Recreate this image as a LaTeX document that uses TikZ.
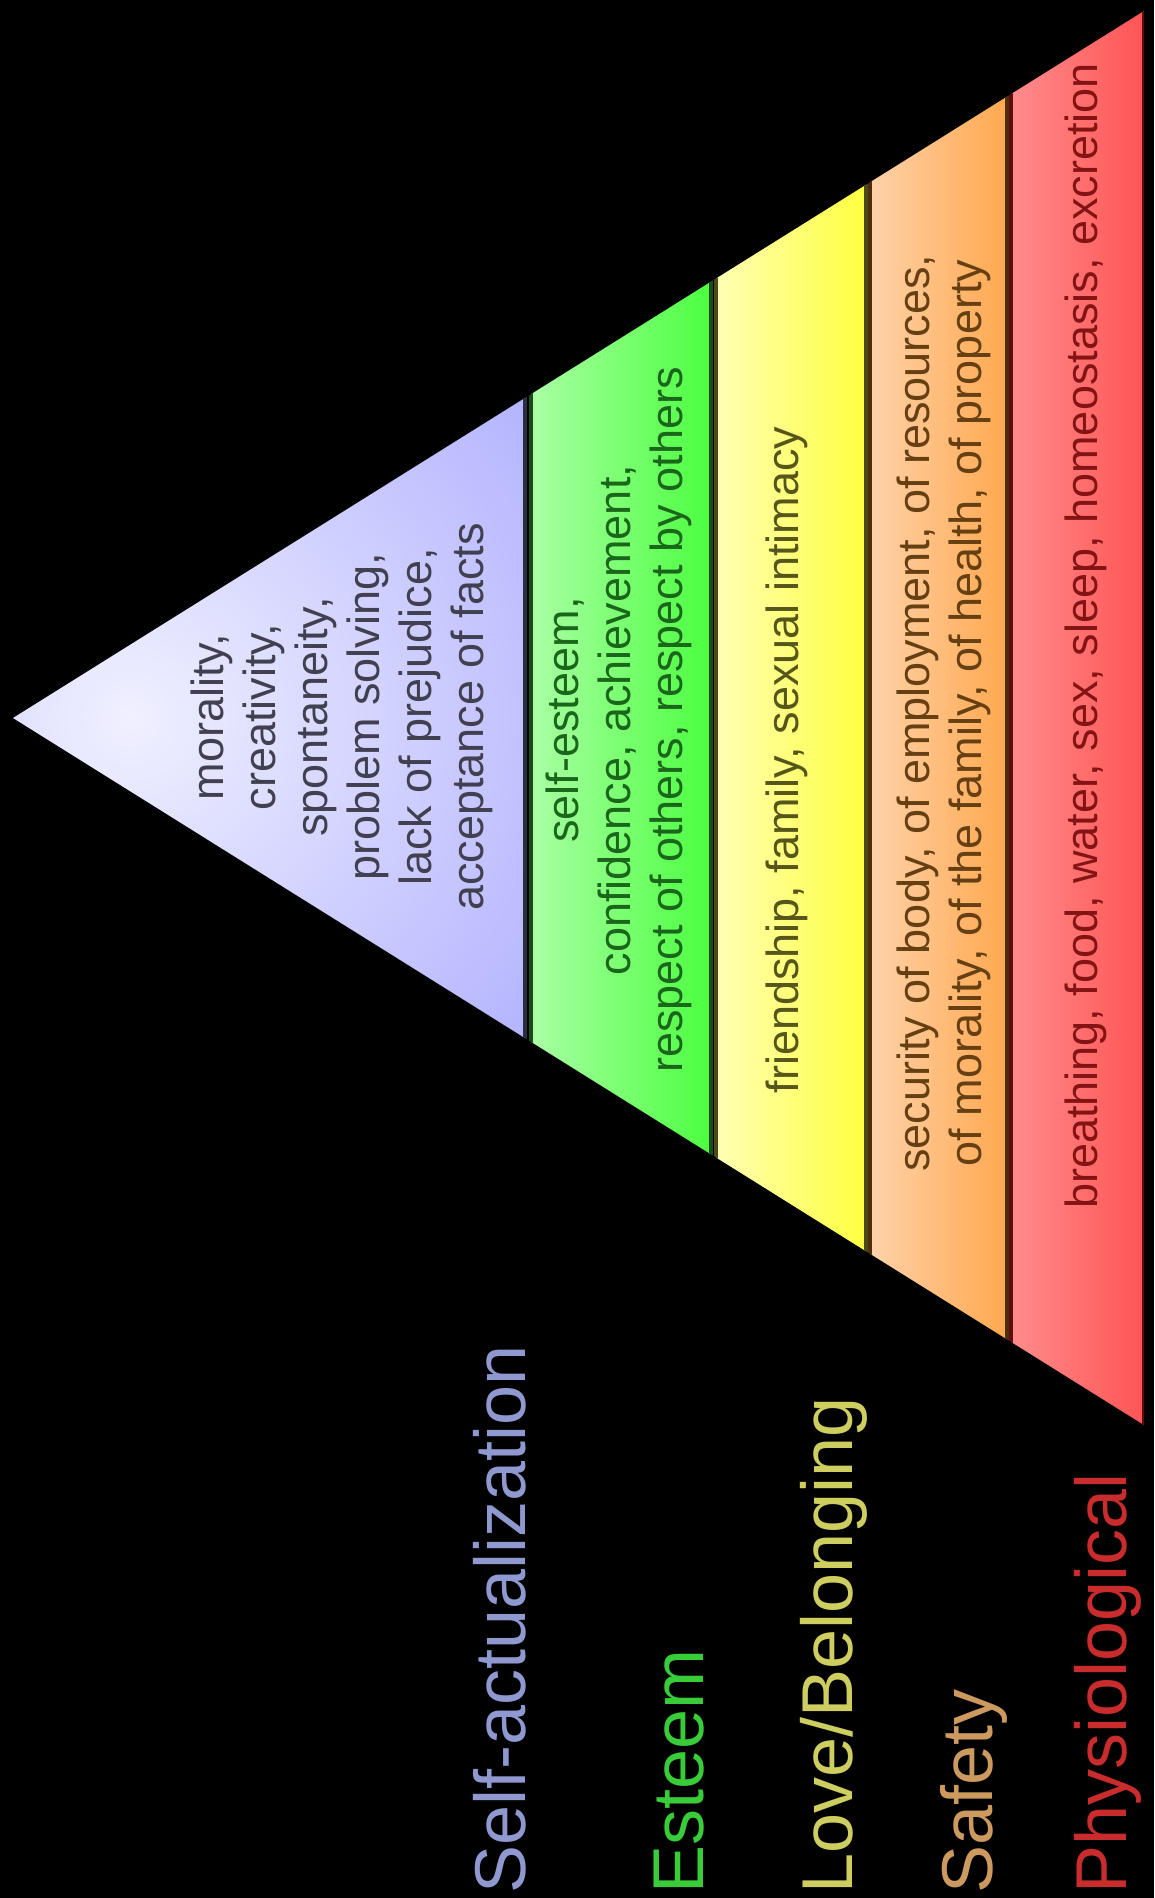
\documentclass[tikz,border=0pt]{standalone}
\usepackage{fontspec}
\setmainfont{Liberation Sans}
\usepackage{tikz}

\definecolor{selflight}{HTML}{F0F0FF}
\definecolor{selfdark}{HTML}{7A7AFF}
\definecolor{selfedge}{HTML}{283040}
\definecolor{selftext}{HTML}{404050}
\definecolor{selflabel}{HTML}{9098D0}
\definecolor{esteemlight}{HTML}{AAFFA4}
\definecolor{esteemdark}{HTML}{4CFF40}
\definecolor{esteemedge}{HTML}{1C4A1C}
\definecolor{esteemtext}{HTML}{1A661A}
\definecolor{esteemlabel}{HTML}{38CC38}
\definecolor{lovelight}{HTML}{FFFFB4}
\definecolor{lovedark}{HTML}{FFFF40}
\definecolor{loveedge}{HTML}{4A4A18}
\definecolor{lovetext}{HTML}{56561A}
\definecolor{lovelabel}{HTML}{CDCD60}
\definecolor{safetylight}{HTML}{FFD2AA}
\definecolor{safetydark}{HTML}{FFA84E}
\definecolor{safetyedge}{HTML}{4E2C0C}
\definecolor{safetytext}{HTML}{664012}
\definecolor{safetylabel}{HTML}{CC9A5E}
\definecolor{physlight}{HTML}{FF8C8C}
\definecolor{physdark}{HTML}{FF5454}
\definecolor{physedge}{HTML}{5C0E0E}
\definecolor{phystext}{HTML}{841414}
\definecolor{physlabel}{HTML}{C82C2C}

\tikzset
{
  bandtext/.style   = {rotate=90, align=center, inner sep=0pt, font=\fontsize{45}{52}\selectfont},
  levellabel/.style = {rotate=90, anchor=base west, inner sep=0pt, font=\fontsize{72}{82}\selectfont},
  bandedge/.style   = {line width=4pt}
}

\begin{document}
\begin{tikzpicture}[x=1pt,y=-1pt]
  \useasboundingbox (0,0) rectangle (1154,1898);
  \fill[black] (0,0) rectangle (1154,1898);

  \begin{scope}
    \clip (13,718) -- (1144,11) -- (1144,1425) -- cycle;
    % self-actualization
    \begin{scope}
      \clip (0,0) rectangle (525,1898);
      \shade[inner color=selflight, outer color=selfdark] (130,718) circle (1000);
    \end{scope}
    \draw[bandedge, selfedge] (525,0) -- (525,1898);
    % esteem
    \shade[left color=esteemlight, right color=esteemdark] (531,0) rectangle (711,1898);
    \draw[bandedge, esteemedge] (531,0) rectangle (711,1898);
    % love/belonging
    \shade[left color=lovelight, right color=lovedark] (716,0) rectangle (866,1898);
    \draw[bandedge, loveedge] (716,0) rectangle (866,1898);
    % safety
    \shade[left color=safetylight, right color=safetydark] (870,0) rectangle (1007,1898);
    \draw[bandedge, safetyedge] (870,0) rectangle (1007,1898);
    % physiological
    \shade[left color=physlight, right color=physdark] (1011,0) rectangle (1144,1898);
    \draw[bandedge, physedge] (1011,0) rectangle (1144,1898);
  \end{scope}

  \node[bandtext, text=selftext] (selfneeds) at (342,717)
    {morality,\\creativity,\\spontaneity,\\problem solving,\\lack of prejudice,\\acceptance of facts};
  \node[bandtext, text=esteemtext] (esteemneeds) at (619,720)
    {self-esteem,\\confidence, achievement,\\respect of others, respect by others};
  \node[bandtext, text=lovetext] (loveneeds) at (787,760)
    {friendship, family, sexual intimacy};
  \node[bandtext, text=safetytext] (safetyneeds) at (944,713)
    {security of body, of employment, of resources,\\of morality, of the family, of health, of property};
  \node[bandtext, text=phystext] (physneeds) at (1086,636)
    {breathing, food, water, sex, sleep, homeostasis, excretion};

  \node[levellabel, text=selflabel] (selflevel) at (525,1894) {Self-actualization};
  \node[levellabel, text=esteemlabel] (esteemlevel) at (703,1894) {Esteem};
  \node[levellabel, text=lovelabel] (lovelevel) at (852,1894) {Love/Belonging};
  \node[levellabel, text=safetylabel] (safetylevel) at (992,1894) {Safety};
  \node[levellabel, text=physlabel] (physlevel) at (1126,1894) {Physiological};
\end{tikzpicture}
\end{document}
